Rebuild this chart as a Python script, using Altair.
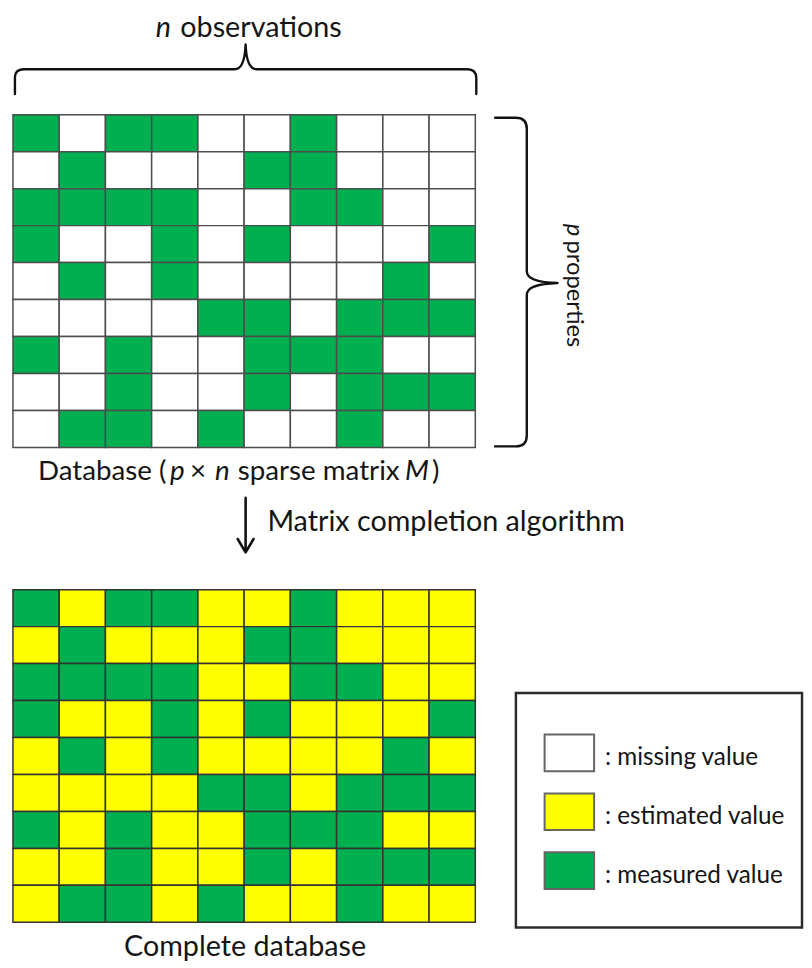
import altair as alt
import pandas as pd

# ---------------- data ----------------
# p x n sparse matrix: 1 = measured value, 0 = missing value
measured = [
    [1, 0, 1, 1, 0, 0, 1, 0, 0, 0],
    [0, 1, 0, 0, 0, 1, 1, 0, 0, 0],
    [1, 1, 1, 1, 0, 0, 1, 1, 0, 0],
    [1, 0, 0, 1, 0, 1, 0, 0, 0, 1],
    [0, 1, 0, 1, 0, 0, 0, 0, 1, 0],
    [0, 0, 0, 0, 1, 1, 0, 1, 1, 1],
    [1, 0, 1, 0, 0, 1, 1, 1, 0, 0],
    [0, 0, 1, 0, 0, 1, 0, 1, 1, 1],
    [0, 1, 1, 0, 1, 0, 0, 1, 0, 0],
]
status_names = ["missing value", "estimated value", "measured value"]
status_colors = ["#FFFFFF", "#FFFF00", "#00B050"]

# ---------------- layout ----------------
W, H = 804, 958          # chart size (page = chart + 8px margin)
M = 8                    # page margin
GRID_LEFT = 13           # page x of grid left edge
TOP_GRID_TOP = 111       # page y of top grid
BOT_GRID_TOP = 590.7     # page y of bottom grid
CW = 46.7                # cell width (px)
CH = 336 / 9             # cell height (px)
FONT = "Lato"
TXT = "#151515"
FS = 29                  # main text size
FS_DB = 28
FS_LEG = 24.5
FS_ROT = 24


def sx(px):
    return (px - GRID_LEFT) / CW


def sy(py):
    return (py - TOP_GRID_TOP) / CH


BOT_OFFSET = sy(BOT_GRID_TOP)

rows = []
for r, line in enumerate(measured):
    for c, v in enumerate(line):
        rows.append({"panel": "top", "col": c, "row": r,
                     "status": status_names[2] if v else status_names[0]})
        rows.append({"panel": "bottom", "col": c, "row": r + BOT_OFFSET,
                     "status": status_names[2] if v else status_names[1]})
cells = pd.DataFrame(rows)
cells["col2"] = cells["col"] + 1
cells["row2"] = cells["row"] + 1

xscale = alt.Scale(domain=[sx(M), sx(M + W)], nice=False, zero=False)
yscale = alt.Scale(domain=[sy(M), sy(M + H)], nice=False, zero=False, reverse=True)
cscale = alt.Scale(domain=status_names, range=status_colors)


def grid(panel, stroke):
    return alt.Chart(cells[cells.panel == panel]).mark_rect(
        stroke=stroke, strokeWidth=1.5
    ).encode(
        x=alt.X("col:Q", scale=xscale, axis=None),
        x2="col2:Q",
        y=alt.Y("row:Q", scale=yscale, axis=None),
        y2="row2:Q",
        color=alt.Color("status:N", scale=cscale, legend=None),
    )


def text_at(txt, x, y, size, italic=False, align="center", angle=0,
            baseline="alphabetic"):
    kw = dict(font=FONT, fontSize=size, color=TXT, align=align,
              baseline=baseline)
    if italic:
        kw["fontStyle"] = "italic"
    if angle:
        kw["angle"] = angle
    return alt.Chart(pd.DataFrame({"t": [txt]})).mark_text(**kw).encode(
        x=alt.value(x - M), y=alt.value(y - M), text="t:N")


def path_at(path, x, y, width=2.4):
    return alt.Chart(pd.DataFrame({"k": [0]})).mark_point(
        shape=path, size=400, filled=False, stroke="#111111",
        strokeWidth=width, opacity=1, strokeJoin="round", strokeCap="round"
    ).encode(x=alt.value(x - M), y=alt.value(y - M))


def scaled(cmds):
    # path given in px; symbol size 400 -> 10 px per unit
    out = []
    for tok in cmds.split():
        try:
            out.append(f"{float(tok) / 10:g}")
        except ValueError:
            out.append(tok)
    return " ".join(out)


top_brace = scaled("M -233 25 L -233 9 Q -233 0 -224 0 L -11 0 Q -1 0 0 -25 "
                   "Q 1 0 11 0 L 224 0 Q 233 0 233 9 L 233 25")
right_brace = scaled("M -32 -167 L -11 -167 Q 0 -167 0 -156 L 0 -12 Q 0 -1 31 0 "
                     "Q 0 1 0 12 L 0 154 Q 0 165 -11 165 L -32 165")
arrow = scaled("M 0 -27.5 L 0 27 M -8 14 L 0 27.5 L 8 14")

layers = [
    grid("top", "#4d4d4d"),
    grid("bottom", "#333333"),
    # braces and arrow
    path_at(top_brace, 248, 65),
    path_at(right_brace, 532, 281),
    path_at(arrow, 248, 525.5, 2.6),
    # texts
    text_at("n", 165, 32, FS, italic=True),
    text_at("observations", 263.5, 32, FS),
    text_at("Database (", 168, 480, FS_DB, align="right"),
    text_at("p", 179, 480, FS_DB, italic=True),
    text_at("\u00d7", 200, 480, FS_DB),
    text_at("n", 224.5, 480, FS_DB, italic=True),
    text_at("sparse matrix", 240, 480, FS_DB, align="left"),
    text_at("M", 421, 480, FS_DB, italic=True),
    text_at(")", 440, 480, FS_DB),
    text_at("p", 573, 227.5, FS_ROT, italic=True, angle=90),
    text_at("properties", 573, 292, FS_ROT, angle=90),
    text_at("Matrix completion algorithm", 450.5, 531, FS),
    text_at("Complete database", 247.5, 961, FS),
]

# legend box
legend_box = alt.Chart(pd.DataFrame({"k": [0]})).mark_rect(
    fill="white", stroke="#2b2b2b", strokeWidth=2.5
).encode(x=alt.value(521 - M), x2=alt.value(810 - M),
         y=alt.value(695 - M), y2=alt.value(932 - M))
layers.append(legend_box)

leg = pd.DataFrame({"status": status_names, "idx": [0, 1, 2]})
LEG_TOP, LEG_STEP, SW_H = 737, 59.5, 37
leg_base = alt.Chart(leg).transform_calculate(
    x1=str(sx(550)), x2=str(sx(600)),
    y1=f"{sy(LEG_TOP)} + datum.idx * {LEG_STEP / CH}",
    y2=f"{sy(LEG_TOP + SW_H)} + datum.idx * {LEG_STEP / CH}",
    ty=f"{sy(LEG_TOP + 31)} + datum.idx * {LEG_STEP / CH}",
    tx=str(sx(611)),
    label="': ' + datum.status",
)
leg_rects = leg_base.mark_rect(stroke="#666666", strokeWidth=2).encode(
    x=alt.X("x1:Q", scale=xscale, axis=None), x2="x2:Q",
    y=alt.Y("y1:Q", scale=yscale, axis=None), y2="y2:Q",
    color=alt.Color("status:N", scale=cscale, legend=None),
)
leg_text = leg_base.mark_text(font=FONT, fontSize=FS_LEG, color=TXT, align="left",
                              baseline="alphabetic").encode(
    x=alt.X("tx:Q", scale=xscale, axis=None),
    y=alt.Y("ty:Q", scale=yscale, axis=None),
    text="label:N",
)
layers += [leg_rects, leg_text]

chart = alt.layer(*layers).properties(
    width=W, height=H, padding=0,
    autosize=alt.AutoSizeParams(type="none"),
).configure_view(stroke=None)

chart.save("out.html", embed_options={"renderer": "svg", "actions": False})
